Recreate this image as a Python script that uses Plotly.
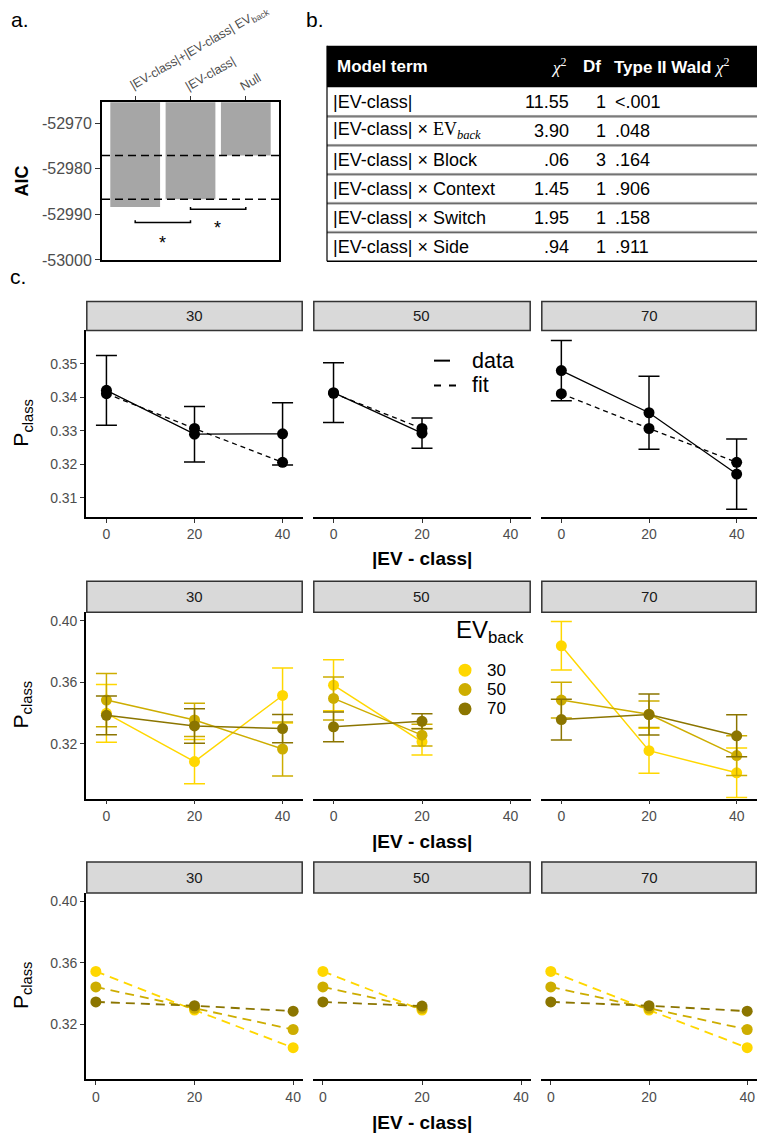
import plotly.graph_objects as go

W, H = 757, 1143
FONT = "Liberation Sans, Arial, sans-serif"

# ---------------- Panel a data ----------------
model_labels = ["|EV-class|+|EV-class| EV<sub>back</sub>", "|EV-class|", "Null"]
model_aic = [-52988.4, -52986.7, -52977.1]
aic_ticks = [-53000, -52990, -52980, -52970]
aic_ticktext = ["-53000", "-52990", "-52980", "-52970"]

# ---------------- Panel b data ----------------
term_names = ["|EV-class|",
              "|EV-class| × <span style=\"font-family:Liberation Serif\">EV<sub><i>back</i></sub></span>",
              "|EV-class| × Block", "|EV-class| × Context",
              "|EV-class| × Switch", "|EV-class| × Side"]
chi2_vals = ["11.55", "3.90", ".06", "1.45", "1.95", ".94"]
df_vals = ["1", "1", "3", "1", "1", "1"]
p_vals = ["<.001", ".048", ".164", ".906", ".158", ".911"]

# ---------------- Panel c data ----------------
blocks = ["30", "50", "70"]
ev_diff = {"30": [0, 20, 40], "50": [0, 20], "70": [0, 20, 40]}

# row 1: overall data (mean, se) and model fit
data_mean = {"30": [0.3421, 0.3290, 0.3291], "50": [0.3414, 0.3293], "70": [0.3480, 0.3354, 0.3171]}
data_se = {"30": [0.0104, 0.0083, 0.0093], "50": [0.0089, 0.0045], "70": [0.0090, 0.0109, 0.0105]}
fit_mean = {"30": [0.3411, 0.3307, 0.3206], "50": [0.3412, 0.3307], "70": [0.3411, 0.3307, 0.3206]}

# row 2: data split by EV_back
ev_back = ["30", "50", "70"]
ev_colors = {"30": "#FFD700", "50": "#CDAD00", "70": "#8B7500"}
split_mean = {
    "30": {"30": [0.3398, 0.3084, 0.3514], "50": [0.3484, 0.3355, 0.3166], "70": [0.3385, 0.3316, 0.3299]},
    "50": {"30": [0.3581, 0.3213], "50": [0.3495, 0.3256], "70": [0.3310, 0.3346]},
    "70": {"30": [0.3837, 0.3155, 0.3011], "50": [0.3484, 0.3392, 0.3123], "70": [0.3357, 0.3390, 0.3252]},
}
split_se = {
    "30": {"30": [0.0188, 0.0144, 0.0179], "50": [0.0173, 0.0108, 0.0176], "70": [0.0126, 0.0112, 0.0092]},
    "50": {"30": [0.0166, 0.0086], "50": [0.0140, 0.0071], "70": [0.0097, 0.0049]},
    "70": {"30": [0.0158, 0.0146, 0.0161], "50": [0.0116, 0.0086, 0.0129], "70": [0.0133, 0.0133, 0.0136]},
}
# row 3: model fit split by EV_back
split_fit = {
    "30": {"30": [0.3545, 0.3294, 0.3050], "50": [0.3444, 0.3305, 0.3168], "70": [0.3347, 0.3322, 0.3287]},
    "50": {"30": [0.3545, 0.3294], "50": [0.3444, 0.3305], "70": [0.3347, 0.3320]},
    "70": {"30": [0.3545, 0.3294, 0.3050], "50": [0.3444, 0.3305, 0.3168], "70": [0.3347, 0.3322, 0.3287]},
}

row1_ticks = [0.31, 0.32, 0.33, 0.34, 0.35]
row23_ticks = [0.32, 0.36, 0.40]


def fx(p):
    return p / W


def fy(p):
    return 1 - p / H


fig = go.Figure()
layout = dict(width=W, height=H, margin=dict(l=0, r=0, t=0, b=0),
              paper_bgcolor="white", plot_bgcolor="white",
              font=dict(family=FONT, color="black"), showlegend=False)
shapes, annots = [], []

# ---------------- Panel a ----------------
cats = [1, 2, 3]
fig.add_trace(go.Bar(x=cats, y=model_aic, width=0.9, marker=dict(color="#A6A6A6", line=dict(width=0)),
                     xaxis="x", yaxis="y", hoverinfo="skip"))
layout["xaxis"] = dict(domain=[fx(102), fx(279)], range=[0.4, 3.6], anchor="y", side="top",
                       tickvals=cats, showticklabels=False, showline=True, mirror=True,
                       linecolor="black", linewidth=2, ticks="outside", ticklen=4, tickcolor="#333",
                       showgrid=False, zeroline=False)
layout["yaxis"] = dict(domain=[fy(262), fy(103)], range=[-53000, -52965.4], anchor="x",
                       tickvals=aic_ticks, ticktext=aic_ticktext,
                       tickfont=dict(size=16, color="#4D4D4D"), showline=True, mirror=True,
                       linecolor="black", linewidth=2, ticks="outside", ticklen=5, tickcolor="#333",
                       showgrid=False, zeroline=False)
# rotated category labels
for cx, lab in zip(cats, model_labels):
    annots.append(dict(x=cx, y=fy(96), xref="x", yref="paper", text=lab, textangle=-30, showarrow=False,
                       font=dict(size=12.5, color="#4D4D4D"), xanchor="left", yanchor="bottom",
                       xshift=-9, borderpad=0))
for v in model_aic[1:]:
    shapes.append(dict(type="line", xref="x domain", x0=0, x1=1, yref="y", y0=v, y1=v,
                       line=dict(color="black", width=1.5, dash="8px,5px")))
# significance brackets
for (xa, xb, yb, xs, ys) in [(1, 2, -52991.8, 1.49, -52996.2), (2, 3, -52988.9, 2.48, -52993.0)]:
    shapes.append(dict(type="path", xref="x", yref="y",
                       path=f"M {xa},{yb + 0.5} L {xa},{yb} L {xb},{yb} L {xb},{yb + 0.5}",
                       line=dict(color="black", width=1.5)))
    annots.append(dict(x=xs, y=ys, xref="x", yref="y", text="*", showarrow=False,
                       font=dict(size=18, color="black"), xanchor="center", yanchor="middle"))
annots.append(dict(x=fx(22), y=fy(183), xref="paper", yref="paper", text="<b>AIC</b>", textangle=-90,
                   showarrow=False, font=dict(size=18), xanchor="center", yanchor="middle"))

# panel letters
for t, px, py in [("a.", 9, 20), ("b.", 304, 20), ("c.", 8, 279)]:
    annots.append(dict(x=fx(px), y=fy(py), xref="paper", yref="paper", text=t, showarrow=False,
                       font=dict(size=21), xanchor="left", yanchor="middle"))

# ---------------- Panel b (table) ----------------
tx0, tx1 = 327, 757
head_top, head_bot = 46, 88
row_h = 29.2
shapes.append(dict(type="rect", xref="paper", yref="paper", x0=fx(tx0), x1=fx(tx1),
                   y0=fy(head_bot), y1=fy(head_top), fillcolor="black", line=dict(width=0), layer="below"))
hy = (head_top + head_bot) / 2
for text, px, anchor in [("<b>Model term</b>", 335, "left"),
                         ("<span style=\"font-family:Liberation Serif\"><i>χ</i><sup>2</sup></span>", 568, "right"),
                         ("<b>Df</b>", 592, "center"),
                         ("<b>Type II Wald </b><span style=\"font-family:Liberation Serif\"><i>χ</i><sup>2</sup></span>", 612, "left")]:
    annots.append(dict(x=fx(px), y=fy(hy), xref="paper", yref="paper", text=text, showarrow=False,
                       font=dict(size=17, color="white"), xanchor=anchor, yanchor="middle"))
for i in range(len(term_names)):
    top = head_bot + i * row_h
    cy = top + row_h / 2
    for text, px, anchor in [(term_names[i], 331, "left"), (chi2_vals[i], 571, "right"),
                             (df_vals[i], 601, "center"), (p_vals[i], 613, "left")]:
        annots.append(dict(x=fx(px), y=fy(cy), xref="paper", yref="paper", text=text, showarrow=False,
                           font=dict(size=18, color="black"), xanchor=anchor, yanchor="middle"))
    if i > 0:
        shapes.append(dict(type="line", xref="paper", yref="paper", x0=fx(tx0), x1=fx(tx1),
                           y0=fy(top - 0.8), y1=fy(top - 0.8), line=dict(color="#9A9A9A", width=1)))
        shapes.append(dict(type="line", xref="paper", yref="paper", x0=fx(tx0), x1=fx(tx1),
                           y0=fy(top + 0.6), y1=fy(top + 0.6), line=dict(color="#333", width=1)))
tbot = head_bot + len(term_names) * row_h
shapes.append(dict(type="line", xref="paper", yref="paper", x0=fx(tx0), x1=fx(tx1),
                   y0=fy(tbot), y1=fy(tbot), line=dict(color="black", width=1.5)))
shapes.append(dict(type="line", xref="paper", yref="paper", x0=fx(tx0), x1=fx(tx0),
                   y0=fy(tbot), y1=fy(head_top), line=dict(color="black", width=1.2)))

# ---------------- Panel c (facets) ----------------
col_x = [(86, 303), (313, 531), (541, 757)]
row_y = [(333, 521), (617, 805), (900, 1087.7)]
strip_top = [303, 585, 868]
row_yrange = [[0.3043, 0.36], [0.2843, 0.4056], [0.2846, 0.4054]]
row_xrange = [[-4.64, 44.64], [-4.64, 44.64], [-2.0, 42.0]]
row_yticks = [row1_ticks, row23_ticks, row23_ticks]
xtitle_y = [563, 848, 1131]

for r in range(3):
    for c in range(3):
        idx = 2 + r * 3 + c
        xa, ya = f"x{idx}", f"y{idx}"
        blk = blocks[c]
        x0p, x1p = col_x[c]
        y0p, y1p = row_y[r]
        layout[f"xaxis{idx}"] = dict(domain=[fx(x0p), fx(x1p)], range=row_xrange[r], anchor=ya,
                                     tickvals=[0, 20, 40], tickfont=dict(size=14, color="#4D4D4D"),
                                     showline=True, linecolor="black", linewidth=1.6, ticks="outside",
                                     ticklen=4, tickcolor="#333", showgrid=False, zeroline=False)
        yax = dict(domain=[fy(y1p), fy(y0p)], range=row_yrange[r], anchor=xa,
                   showgrid=False, zeroline=False)
        if c == 0:
            yax.update(tickvals=row_yticks[r], ticktext=[f"{v:.2f}" for v in row_yticks[r]],
                       tickfont=dict(size=14, color="#4D4D4D"), showline=True, linecolor="black",
                       linewidth=1.6, ticks="outside", ticklen=4, tickcolor="#333")
        else:
            yax.update(showline=False, showticklabels=False, ticks="")
        layout[f"yaxis{idx}"] = yax
        # strip
        shapes.append(dict(type="rect", xref="paper", yref="paper", x0=fx(x0p + 0.8), x1=fx(x1p - 0.8),
                           y0=fy(y0p), y1=fy(strip_top[r] + 0.8), fillcolor="#D9D9D9",
                           line=dict(color="#333333", width=1.5)))
        annots.append(dict(x=fx((x0p + x1p) / 2), y=fy((strip_top[r] + y0p) / 2), xref="paper", yref="paper",
                           text=blk, showarrow=False, font=dict(size=15, color="#1A1A1A"),
                           xanchor="center", yanchor="middle"))
        xs = ev_diff[blk]
        if r == 0:
            fig.add_trace(go.Scatter(x=xs, y=fit_mean[blk], mode="lines+markers", xaxis=xa, yaxis=ya,
                                     line=dict(color="black", width=1.3, dash="5px,4px"),
                                     marker=dict(size=11, color="black"), hoverinfo="skip"))
            fig.add_trace(go.Scatter(x=xs, y=data_mean[blk], mode="lines+markers", xaxis=xa, yaxis=ya,
                                     line=dict(color="black", width=1.3),
                                     marker=dict(size=11, color="black"),
                                     error_y=dict(type="data", array=data_se[blk], color="black",
                                                  thickness=1.5, width=10.5),
                                     hoverinfo="skip"))
        elif r == 1:
            for ev in ev_back:
                fig.add_trace(go.Scatter(x=xs, y=split_mean[blk][ev], mode="lines+markers", xaxis=xa, yaxis=ya,
                                         line=dict(color=ev_colors[ev], width=1.5),
                                         marker=dict(size=11, color=ev_colors[ev]),
                                         error_y=dict(type="data", array=split_se[blk][ev], color=ev_colors[ev],
                                                      thickness=1.5, width=10.5),
                                         hoverinfo="skip"))
        else:
            for ev in ev_back:
                fig.add_trace(go.Scatter(x=xs, y=split_fit[blk][ev], mode="lines+markers", xaxis=xa, yaxis=ya,
                                         line=dict(color=ev_colors[ev], width=1.8, dash="9px,6px"),
                                         marker=dict(size=11, color=ev_colors[ev]),
                                         hoverinfo="skip"))
    # axis titles
    annots.append(dict(x=fx(421.5), y=fy(xtitle_y[r]), xref="paper", yref="paper", text="<b>|EV - class|</b>",
                       showarrow=False, font=dict(size=19), xanchor="center", yanchor="middle"))
    annots.append(dict(x=fx(22), y=fy((row_y[r][0] + row_y[r][1]) / 2), xref="paper", yref="paper",
                       text="P<sub>class</sub>", textangle=-90, showarrow=False, font=dict(size=21),
                       xanchor="center", yanchor="middle"))

# row 1 legend (data / fit)
shapes.append(dict(type="line", xref="paper", yref="paper", x0=fx(434), x1=fx(450), y0=fy(363.5), y1=fy(363.5),
                   line=dict(color="black", width=2)))
shapes.append(dict(type="line", xref="paper", yref="paper", x0=fx(434), x1=fx(458), y0=fy(388.5), y1=fy(388.5),
                   line=dict(color="black", width=2, dash="7px,8px")))
for t, py in [("data", 363.5), ("fit", 388.5)]:
    annots.append(dict(x=fx(471), y=fy(py), xref="paper", yref="paper", text=t, showarrow=False,
                       font=dict(size=21.5), xanchor="left", yanchor="middle", borderpad=0))

# row 2 legend (EV_back)
annots.append(dict(x=fx(455), y=fy(637), xref="paper", yref="paper", text="EV<sub>back</sub>", showarrow=False,
                   font=dict(size=24), xanchor="left", yanchor="middle", borderpad=0))
for k, ev in enumerate(ev_back):
    cy = 675.5 + k * 19.5
    shapes.append(dict(type="circle", xref="paper", yref="paper", x0=fx(458.5), x1=fx(471.5),
                       y0=fy(cy + 6.5), y1=fy(cy - 6.5), fillcolor=ev_colors[ev], line=dict(width=0)))
    annots.append(dict(x=fx(486), y=fy(cy), xref="paper", yref="paper", text=ev, showarrow=False,
                       font=dict(size=17), xanchor="left", yanchor="middle", borderpad=0))

layout["shapes"] = shapes
layout["annotations"] = annots
fig.update_layout(**layout)
fig.write_html("out.html")
